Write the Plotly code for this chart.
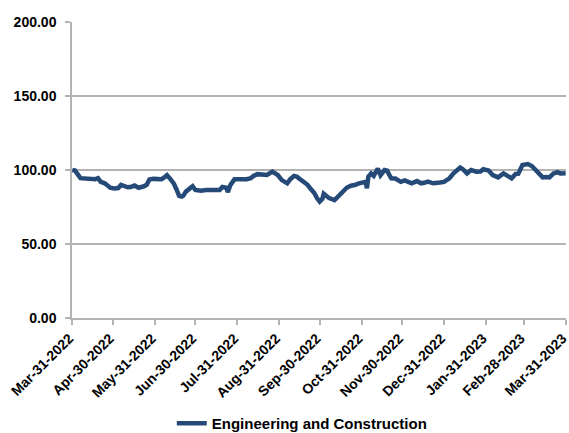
import plotly.graph_objects as go

dates = [
    "2022-03-31", "2022-04-02", "2022-04-06", "2022-04-10", "2022-04-13", "2022-04-17",
    "2022-04-19", "2022-04-21", "2022-04-24", "2022-04-26", "2022-04-28", "2022-05-01",
    "2022-05-04", "2022-05-06", "2022-05-09", "2022-05-11", "2022-05-13", "2022-05-16",
    "2022-05-19", "2022-05-21", "2022-05-23", "2022-05-25", "2022-05-27", "2022-05-30",
    "2022-06-02", "2022-06-05", "2022-06-07", "2022-06-09", "2022-06-11", "2022-06-14",
    "2022-06-16", "2022-06-18", "2022-06-20", "2022-06-21", "2022-06-23", "2022-06-26",
    "2022-06-28", "2022-06-30", "2022-07-04", "2022-07-08", "2022-07-11", "2022-07-15",
    "2022-07-18", "2022-07-20", "2022-07-23", "2022-07-24", "2022-07-26", "2022-07-29",
    "2022-08-01", "2022-08-04", "2022-08-07", "2022-08-10", "2022-08-12", "2022-08-15",
    "2022-08-18", "2022-08-20", "2022-08-22", "2022-08-26", "2022-08-30", "2022-09-02",
    "2022-09-04", "2022-09-06", "2022-09-08", "2022-09-11", "2022-09-13", "2022-09-16",
    "2022-09-19", "2022-09-21", "2022-09-23", "2022-09-26", "2022-09-28", "2022-09-30",
    "2022-10-02", "2022-10-03", "2022-10-05", "2022-10-07", "2022-10-11", "2022-10-13",
    "2022-10-15", "2022-10-17", "2022-10-20", "2022-10-23", "2022-10-26", "2022-10-29",
    "2022-11-01", "2022-11-03", "2022-11-04", "2022-11-05", "2022-11-07", "2022-11-09",
    "2022-11-12", "2022-11-14", "2022-11-17", "2022-11-19", "2022-11-20", "2022-11-22",
    "2022-11-25", "2022-11-29", "2022-12-02", "2022-12-05", "2022-12-07", "2022-12-11",
    "2022-12-14", "2022-12-17", "2022-12-19", "2022-12-23", "2022-12-26", "2022-12-28",
    "2022-12-31", "2023-01-02", "2023-01-04", "2023-01-07", "2023-01-09", "2023-01-12",
    "2023-01-14", "2023-01-17", "2023-01-20", "2023-01-24", "2023-01-27", "2023-01-29",
    "2023-02-02", "2023-02-05", "2023-02-09", "2023-02-13", "2023-02-16", "2023-02-19",
    "2023-02-22", "2023-02-24", "2023-02-27", "2023-03-03", "2023-03-06", "2023-03-10",
    "2023-03-14", "2023-03-17", "2023-03-19", "2023-03-22", "2023-03-25", "2023-03-27",
    "2023-03-31",
]
values = [
    100.0, 99.6, 94.5, 94.0, 94.2, 93.8,
    94.5, 92.0, 91.0, 89.5, 88.0, 87.5,
    87.8, 89.9, 89.0, 88.3, 88.5, 89.5,
    88.0, 88.3, 89.0, 90.0, 93.5, 94.0,
    93.5, 93.7, 95.0, 96.5, 94.5, 91.0,
    87.0, 82.5, 82.0, 82.5, 85.4, 87.5,
    89.0, 86.5, 86.0, 86.5, 86.3, 86.7,
    86.5, 88.5, 88.0, 85.0, 90.0, 93.7,
    93.5, 94.0, 93.8, 94.5, 96.0, 97.2,
    97.0, 97.3, 96.6, 98.9, 96.6, 93.2,
    92.0, 91.0, 93.5, 96.0, 95.5, 93.7,
    92.0, 90.0, 87.6, 84.5, 81.0, 78.6,
    80.5, 84.0, 82.5, 81.0, 79.7, 81.5,
    84.0, 85.5, 88.0, 89.4, 89.8, 91.0,
    91.5, 92.0, 87.6, 95.5, 97.7, 96.0,
    101.0, 96.5, 100.0, 99.5, 97.5, 94.4,
    94.2, 92.0, 93.0, 91.5, 91.0, 92.5,
    91.0, 91.5, 92.1, 91.0, 91.0, 91.5,
    92.0, 93.2, 94.4, 97.7, 99.5, 101.6,
    100.5, 97.7, 100.0, 98.9, 99.0, 100.5,
    99.6, 96.6, 95.0, 97.7, 96.0, 94.4,
    97.3, 97.5, 103.4, 104.0, 102.7, 98.9,
    95.0, 95.2, 95.0, 97.7, 98.5, 97.7,
    97.8,
]

tick_dates = [
    "2022-03-31", "2022-04-30", "2022-05-31", "2022-06-30", "2022-07-31", "2022-08-31",
    "2022-09-30", "2022-10-31", "2022-11-30", "2022-12-31", "2023-01-31", "2023-02-28",
    "2023-03-31",
]
tick_labels = [
    "Mar-31-2022", "Apr-30-2022", "May-31-2022", "Jun-30-2022", "Jul-31-2022", "Aug-31-2022",
    "Sep-30-2022", "Oct-31-2022", "Nov-30-2022", "Dec-31-2022", "Jan-31-2023", "Feb-28-2023",
    "Mar-31-2023",
]
y_ticks = [0, 50, 100, 150, 200]

LINE = "#264a78"
GRID = "#b3b3b3"
FONT = "Liberation Sans, Arial, sans-serif"

fig = go.Figure()
fig.add_trace(go.Scatter(
    x=dates, y=values, mode="lines", name="<b>Engineering and Construction</b>",
    line=dict(color=LINE, width=4.5),
))

fig.update_layout(
    width=569, height=433,
    margin=dict(l=72, r=3, t=22, b=115, autoexpand=False),
    paper_bgcolor="white", plot_bgcolor="white",
    font=dict(family=FONT, color="black"),
    showlegend=True,
    legend=dict(
        orientation="h", x=0.202, xanchor="left",
        yref="container", y=0.022, yanchor="middle",
        font=dict(size=15, family=FONT, color="black"),
        bgcolor="rgba(0,0,0,0)",
    ),
    xaxis=dict(
        type="date",
        range=["2022-03-30 18:00", "2023-03-31 06:00"],
        tickvals=tick_dates, ticktext=["<b>%s</b>" % t for t in tick_labels],
        tickangle=-45,
        ticklabeloverflow="allow",
        ticklabelshift=-3,
        tickfont=dict(size=14, family=FONT, color="black"),
        showgrid=False, zeroline=False,
        showline=True, linecolor=GRID, linewidth=1.5,
        ticks="outside", ticklen=5, tickcolor=GRID, tickwidth=1.5,
    ),
    yaxis=dict(
        range=[0, 200],
        tickvals=y_ticks, ticktext=["<b>%.2f</b>" % v for v in y_ticks],
        tickfont=dict(size=14, family=FONT, color="black"),
        showgrid=True, gridcolor=GRID, gridwidth=1.5,
        zeroline=False,
        showline=True, linecolor=GRID, linewidth=1.5,
        ticks="outside", ticklen=5, tickcolor=GRID, tickwidth=1.5,
        ticklabelstandoff=6,
    ),
)

fig.write_html("out.html")
